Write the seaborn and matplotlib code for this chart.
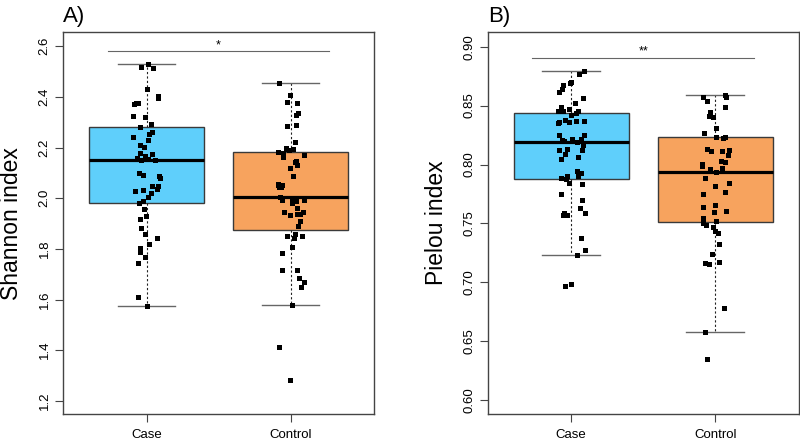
import numpy as np
import pandas as pd
import matplotlib
matplotlib.use('Agg')
import matplotlib.pyplot as plt
import seaborn as sns

groups = ['Case', 'Control']

shannon_case = [2.531, 2.513, 2.516, 2.430, 2.404, 2.397, 2.376, 2.375, 2.371, 2.322,
                2.326, 2.321, 2.292, 2.280, 2.262, 2.253, 2.241, 2.230, 2.209, 2.201,
                2.180, 2.176, 2.168, 2.159, 2.155, 2.152, 2.150, 2.101, 2.092, 2.087,
                2.080, 2.049, 2.049, 2.038, 2.032, 2.029, 2.020, 2.006, 1.988, 1.980,
                1.957, 1.930, 1.918, 1.883, 1.858, 1.842, 1.821, 1.805, 1.788, 1.769,
                1.745, 1.609, 1.576]
shannon_control = [2.454, 2.407, 2.380, 2.377, 2.338, 2.330, 2.287, 2.284, 2.221, 2.200,
                   2.196, 2.195, 2.189, 2.184, 2.178, 2.171, 2.164, 2.147, 2.141, 2.131,
                   2.118, 2.088, 2.056, 2.054, 2.051, 2.045, 2.045, 2.006, 2.002, 1.993,
                   1.992, 1.987, 1.980, 1.961, 1.946, 1.946, 1.937, 1.937, 1.935, 1.908,
                   1.891, 1.858, 1.851, 1.844, 1.851, 1.809, 1.783, 1.716, 1.716, 1.684,
                   1.670, 1.651, 1.579, 1.413, 1.281]

pielou_case = [0.8792, 0.8769, 0.8698, 0.8692, 0.8678, 0.8644, 0.8614, 0.8563, 0.8520, 0.8486,
               0.8469, 0.8458, 0.8458, 0.8453, 0.8441, 0.8419, 0.8379, 0.8373, 0.8373, 0.8364,
               0.8359, 0.8356, 0.8254, 0.8254, 0.8220, 0.8220, 0.8209, 0.8203, 0.8192, 0.8169,
               0.8133, 0.8125, 0.8125, 0.8091, 0.8063, 0.8046, 0.7944, 0.7927, 0.7927, 0.7907,
               0.7904, 0.7887, 0.7876, 0.7847, 0.7834, 0.7749, 0.7703, 0.7633, 0.7588, 0.7574,
               0.7574, 0.7588, 0.7373, 0.7275, 0.7237, 0.6983, 0.6966]
pielou_control = [0.8588, 0.8576, 0.8571, 0.8540, 0.8492, 0.8492, 0.8449, 0.8413, 0.8407, 0.8308,
                  0.8266, 0.8237, 0.8237, 0.8224, 0.8133, 0.8125, 0.8119, 0.8119, 0.8082, 0.8034,
                  0.8020, 0.8003, 0.7989, 0.7969, 0.7964, 0.7941, 0.7890, 0.7842, 0.7814, 0.7771,
                  0.7752, 0.7659, 0.7644, 0.7610, 0.7597, 0.7546, 0.7537, 0.7517, 0.7503, 0.7489,
                  0.7470, 0.7438, 0.7419, 0.7325, 0.7243, 0.7173, 0.7164, 0.7156, 0.6783, 0.6576,
                  0.6351]

colors = {'Case': '#5FCFFB', 'Control': '#F7A35E'}


def make_df(case, control):
    return pd.DataFrame({'group': ['Case'] * len(case) + ['Control'] * len(control),
                         'value': list(case) + list(control)})


def draw_panel(ax, df, ylabel, ylim, yticks, ytick_fmt, sig_y, stars, letter):
    sns.boxplot(data=df, x='group', y='value', hue='group', palette=colors, order=groups,
                width=0.8, showfliers=False, legend=False, ax=ax, linecolor='#3a3a3a',
                linewidth=1.0, saturation=1,
                medianprops=dict(color='black', linewidth=2.3),
                whiskerprops=dict(color='#222222', linewidth=0.8, linestyle=(0, (2, 2))),
                capprops=dict(color='#666666', linewidth=1.0))
    sns.stripplot(data=df, x='group', y='value', order=groups, color='black', marker='s',
                  size=3.6, linewidth=0, jitter=0.1, ax=ax, zorder=3)
    ax.set_xlim(-0.58, 1.58)
    ax.set_ylim(*ylim)
    ax.set_yticks(yticks)
    ax.set_yticklabels([ytick_fmt.format(t) for t in yticks], rotation=90, va='center')
    ax.set_xlabel('')
    ax.set_ylabel(ylabel, fontsize=16.5)
    ax.yaxis.set_label_coords(-0.128, 0.5)
    ax.tick_params(axis='both', direction='out', length=6, width=0.8, color='#444444',
                   labelsize=9.5, pad=3)
    ax.tick_params(axis='x', pad=5)
    for s in ax.spines.values():
        s.set_visible(True)
        s.set_color('#444444')
        s.set_linewidth(1.0)
    ax.plot([-0.27, 1.27], [sig_y, sig_y], color='#666666', linewidth=0.8)
    ax.text(0.5, sig_y, stars, ha='center', va='bottom', fontsize=9)
    ax.text(0.0, 1.015, letter, transform=ax.transAxes, ha='left', va='bottom', fontsize=16)


plt.rcParams['font.family'] = ['Liberation Sans', 'DejaVu Sans']

fig = plt.figure(figsize=(8, 4.41), dpi=100)
ax1 = fig.add_axes([0.0788, 0.0612, 0.3888, 0.8656])
ax2 = fig.add_axes([0.6096, 0.0612, 0.3888, 0.8656])

np.random.seed(3)
draw_panel(ax1, make_df(shannon_case, shannon_control), 'Shannon index', (1.148, 2.655),
           [1.2, 1.4, 1.6, 1.8, 2.0, 2.2, 2.4, 2.6], '{:.1f}', 2.58, '*', 'A)')
draw_panel(ax2, make_df(pielou_case, pielou_control), 'Pielou index', (0.5884, 0.9122),
           [0.60, 0.65, 0.70, 0.75, 0.80, 0.85, 0.90], '{:.2f}', 0.8907, '**', 'B)')

fig.savefig('out.png', dpi=100)
